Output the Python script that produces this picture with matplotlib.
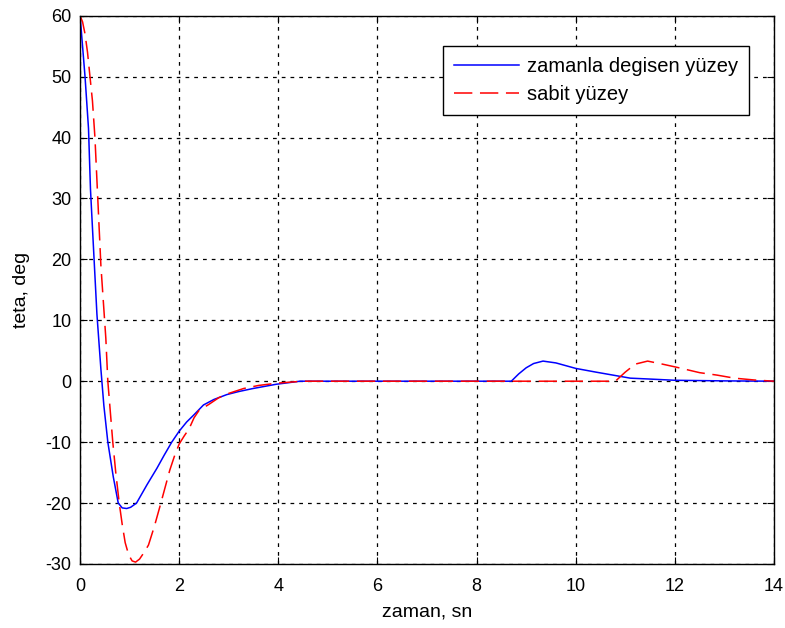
import matplotlib
matplotlib.use("Agg")
import matplotlib.pyplot as plt

# blue: zamanla degisen yuzey
t_blue = [0, 0.03, 0.07, 0.1, 0.17, 0.21, 0.27, 0.34, 0.42, 0.48, 0.56, 0.67, 0.77,
          0.85, 0.94, 1.02, 1.14, 1.35, 1.55, 1.7, 1.85, 2.0, 2.15, 2.3, 2.49, 2.7,
          2.96, 3.2, 3.49, 3.96, 4.44, 8.7, 8.85, 9.0, 9.15, 9.34, 9.6, 10.0, 10.4,
          10.75, 11.1, 11.5, 12.0, 13.0, 14.0]
y_blue = [60, 57, 53, 50, 41.5, 31.5, 22, 11, 2, -4, -10, -15.7, -20,
          -20.8, -20.9, -20.7, -20, -17, -14.3, -12.1, -10, -8.2, -6.7, -5.5, -3.9, -3.0,
          -2.2, -1.7, -1.2, -0.5, 0, 0, 1.2, 2.2, 2.9, 3.3, 3.0, 2.1, 1.5,
          1.0, 0.5, 0.35, 0.15, 0.05, 0]

# red: sabit yuzey
t_red = [0, 0.05, 0.1, 0.15, 0.2, 0.25, 0.3, 0.34, 0.38, 0.42, 0.47, 0.52, 0.56,
         0.61, 0.66, 0.72, 0.79, 0.85, 0.91, 0.98, 1.05, 1.12, 1.2, 1.3, 1.38, 1.5,
         1.61, 1.72, 1.81, 1.9, 2.0, 2.1, 2.2, 2.3, 2.4, 2.6, 2.8, 3.0, 3.3, 3.6,
         4.0, 4.5, 10.8, 11.0, 11.2, 11.45, 11.75, 12.03, 12.5, 12.85, 13.2, 13.6, 14.0]
y_red = [60, 59, 57, 54, 50, 46, 40, 33, 26, 19, 13, 7, 0,
         -5, -10, -15, -20, -23.5, -26.5, -28.5, -29.5, -29.7, -29.2, -28, -26.9, -23.8,
         -20.6, -17.3, -14.6, -12.4, -10.3, -9.0, -7.8, -6.0, -4.8, -3.8, -2.7, -2.0, -1.2, -0.7,
         -0.3, 0, 0, 1.5, 2.8, 3.3, 2.8, 2.3, 1.4, 1.0, 0.5, 0.2, 0]

xticks = [0, 2, 4, 6, 8, 10, 12, 14]
yticks = [-30, -20, -10, 0, 10, 20, 30, 40, 50, 60]

plt.rcParams["font.family"] = ["Liberation Sans", "DejaVu Sans"]
plt.rcParams["axes.unicode_minus"] = False
fig = plt.figure(figsize=(7.85, 6.28), dpi=100)
ax = fig.add_axes([0.102, 0.102, 0.884, 0.873])

ax.plot(t_blue, y_blue, color="#0000ff", lw=1.1, label="zamanla degisen yüzey")
ax.plot(t_red, y_red, color="#ff0000", lw=1.1, ls=(0, (12, 5)), label="sabit yüzey")

ax.set_xlim(0, 14); ax.set_ylim(-30, 60)
ax.set_xticks(xticks); ax.set_yticks(yticks)
ax.grid(True, color="black", ls=(0, (3, 4)), lw=0.9)
ax.tick_params(direction="in", top=True, right=True, labelsize=13, length=5)
ax.tick_params(axis="x", pad=10)
ax.tick_params(axis="y", pad=6)
for s in ax.spines.values():
    s.set_linewidth(1.0)
ax.set_xlabel("zaman, sn", fontsize=14, labelpad=6)
ax.set_ylabel("teta, deg", fontsize=14, labelpad=11)

leg = ax.legend(loc="upper right", bbox_to_anchor=(0.964, 0.945), borderaxespad=0,
                fontsize=14.5, fancybox=False, framealpha=1, edgecolor="black",
                handlelength=3.2, handletextpad=0.4, borderpad=0.55, labelspacing=0.45)
leg.get_frame().set_linewidth(1.0)

fig.savefig("out.png", dpi=100)
